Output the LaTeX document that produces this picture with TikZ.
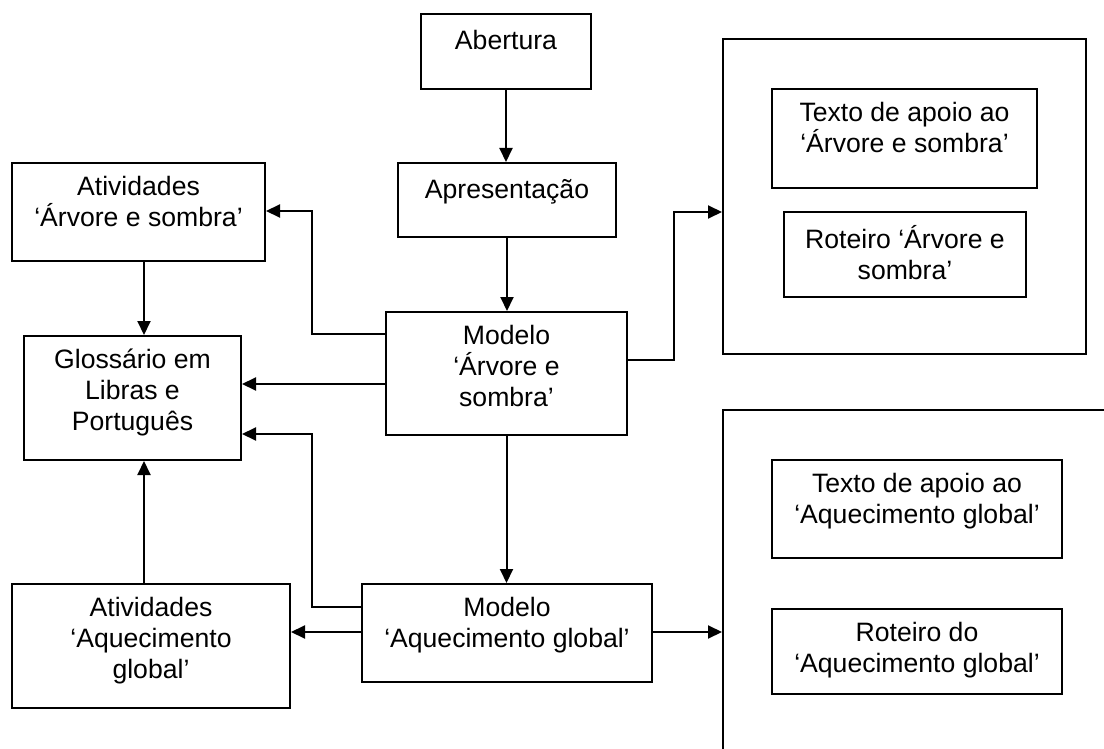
\documentclass[tikz,border=0pt]{standalone}
\usepackage{fontspec}
\setmainfont{Liberation Sans}
\usetikzlibrary{positioning,arrows.meta}
\tikzset{
  caixa/.style = {draw, line width=1pt, anchor=north west, inner sep=0pt},
  texto/.style = {align=center, inner sep=0pt, font=\fontsize{13.3}{15.5}\selectfont,
                  execute at begin node=\strut},
  seta/.style  = {-{Triangle[length=7pt,width=6.5pt]}, line width=1pt}
}
\begin{document}
\begin{tikzpicture}[x=0.5pt, y=-0.5pt]
        \useasboundingbox (0,0) rectangle (1104,749);
        \clip (0,0) rectangle (1104,749);

        % coluna central
        \node[caixa, minimum width=85pt, minimum height=37.5pt] (abertura) at (420,13) {};
        \node[caixa, minimum width=109pt, minimum height=37pt] (apresentacao) at (397,162) {};
        \node[caixa, minimum width=120.5pt, minimum height=61.5pt] (modeloArv) at (385,311) {};
        \node[caixa, minimum width=145pt, minimum height=49pt] (modeloAq) at (361,583) {};

        % coluna da esquerda
        \node[caixa, minimum width=126.5pt, minimum height=49pt] (ativArv) at (11,162) {};
        \node[caixa, minimum width=108.5pt, minimum height=62pt] (glossario) at (23,335) {};
        \node[caixa, minimum width=139pt, minimum height=62pt] (ativAq) at (11,583) {};

        % grupos da direita
        \node[caixa, minimum width=181.5pt, minimum height=157.5pt] (grupoArv) at (722,38) {};
        \node[caixa, minimum width=132.5pt, minimum height=49.5pt] (apoioArv) at (771,88) {};
        \node[caixa, minimum width=121pt, minimum height=42.5pt] (roteiroArv) at (783,211) {};
        \node[caixa, minimum width=200pt, minimum height=180pt] (grupoAq) at (722,409) {};
        \node[caixa, minimum width=145pt, minimum height=49pt] (apoioAq) at (771,459) {};
        \node[caixa, minimum width=145pt, minimum height=42.5pt] (roteiroAq) at (771,608) {};

        % textos
        \node[texto, below=7pt of abertura.north] (tAbertura) {Abertura};
        \node[texto, below=7pt of apresentacao.north] (tApresentacao) {Apresentação};
        \node[texto, below=7pt of modeloArv.north] (tModeloArv) {Modelo\\ ‘Árvore e\\ sombra’};
        \node[texto, below=7pt of modeloAq.north] (tModeloAq) {Modelo\\ ‘Aquecimento global’};
        \node[texto, below=7pt of ativArv.north] (tAtivArv) {Atividades\\ ‘Árvore e sombra’};
        \node[texto, below=7pt of glossario.north] (tGlossario) {Glossário em\\ Libras e\\ Português};
        \node[texto, below=7pt of ativAq.north] (tAtivAq) {Atividades\\ ‘Aquecimento\\ global’};
        \node[texto, below=7pt of apoioArv.north] (tApoioArv) {Texto de apoio ao\\ ‘Árvore e sombra’};
        \node[texto, below=7pt of roteiroArv.north] (tRoteiroArv) {Roteiro ‘Árvore e\\ sombra’};
        \node[texto, below=7pt of apoioAq.north] (tApoioAq) {Texto de apoio ao\\ ‘Aquecimento global’};
        \node[texto, below=7pt of roteiroAq.north] (tRoteiroAq) {Roteiro do\\ ‘Aquecimento global’};

        \coordinate (trilhoE) at (312,0);
        \coordinate (trilhoD) at (674,0);

        \draw[seta] (abertura.south) -- (abertura.south |- apresentacao.north);
        \draw[seta] (apresentacao.south) -- (apresentacao.south |- modeloArv.north);
        \draw[seta] (modeloArv.south) -- (modeloArv.south |- modeloAq.north);
        \draw[seta] (modeloArv.east |- 0,360) -| (trilhoD |- 0,212) -- (grupoArv.west |- 0,212);
        \draw[seta] (modeloArv.west |- 0,334) -| (trilhoE |- 0,211) -- (ativArv.east |- 0,211);
        \draw[seta] (modeloArv.west |- 0,384) -- (glossario.east |- 0,384);
        \draw[seta] (modeloAq.west |- 0,607) -| (trilhoE |- 0,434) -- (glossario.east |- 0,434);
        \draw[seta] (modeloAq.west |- 0,632) -- (ativAq.east |- 0,632);
        \draw[seta] (modeloAq.east |- 0,632) -- (grupoAq.west |- 0,632);
        \draw[seta] (ativArv.south -| 144,0) -- (glossario.north -| 144,0);
        \draw[seta] (ativAq.north -| 144,0) -- (glossario.south -| 144,0);
    \end{tikzpicture}
\end{document}
